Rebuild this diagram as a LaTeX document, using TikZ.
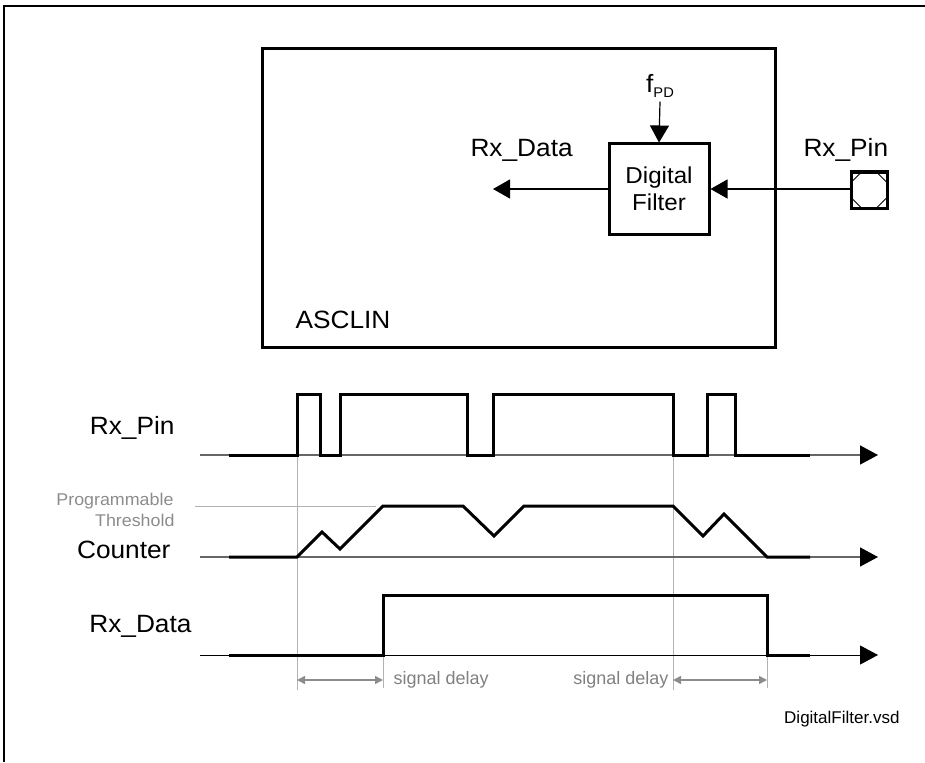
\documentclass[tikz,border=0pt]{standalone}
\usepackage{fontspec}
\setmainfont{Liberation Sans}[FakeStretch=1.05]
\newfontfamily\plainsans{Liberation Sans}
\usetikzlibrary{arrows.meta,calc}

\tikzset{
  box/.style={draw, line width=3pt, inner sep=0pt},
  lbl/.style={font=\fontsize{25}{29}\selectfont},
  note/.style={font=\fontsize{17}{20}\selectfont, black!45},
  arr/.style={line width=1.2pt, -{Triangle[length=17pt,width=19pt]}},
  sig/.style={line width=3pt},
  axis/.style={line width=1.5pt, black!60, -{Triangle[length=18pt,width=19pt,color=black]}},
  guide/.style={black!30, line width=1pt},
  delay/.style={black!45, line width=1.5pt, {Triangle[length=8pt,width=8pt]}-{Triangle[length=8pt,width=8pt]}},
}

\begin{document}
\begin{tikzpicture}[x=1pt, y=-1pt]
	\useasboundingbox (0,0) rectangle (925,762);
	\draw[line width=2pt] (4,762) -- (4,6) -- (925,6);
	
	% block diagram
	\node[box, minimum width=513pt, minimum height=298pt] (asclin) at (518.5,198) {};
	\node[lbl, anchor=base west] (asclinlbl) at (292,328) {ASCLIN};
	\node[box, align=center, minimum width=100pt, minimum height=90pt,
		font=\fontsize{23}{27}\selectfont] (filter) at (659,189) {Digital\\Filter};
	\node[lbl, anchor=base] (fpd) at (660,93) {f\raisebox{-5pt}{\fontsize{14}{14}\selectfont PD}};
	\node[box, line width=3pt, minimum size=36pt] (pin) at (869,190) {};
	\draw[line width=0.8pt] ([shift={(-7.5,-18)}]pin.center) -- ++(15,0) -- ++(10.5,10.5)
		-- ++(0,15) -- ++(-10.5,10.5) -- ++(-15,0) -- ++(-10.5,-10.5) -- ++(0,-15) -- cycle;
	\node[lbl, anchor=base west] (rxdata) at (467,157) {Rx\_Data};
	\node[lbl, anchor=base west] (rxpin) at (800,157) {Rx\_Pin};
	\coordinate (dataout) at (493,189);
	
	\draw[arr] (fpd.south) -- (filter.north);
	\draw[arr] (pin.west |- filter.east) -- (filter.east);
	\draw[arr] (filter.west) -- (dataout);
	
	% timing diagram
	\node[lbl, anchor=base east] (pinlbl) at (178,434) {Rx\_Pin};
	\node[lbl, anchor=base east] (cntlbl) at (174,558) {Counter};
	\node[lbl, anchor=base east] (datalbl) at (195,632) {Rx\_Data};
	\node[note, anchor=base east] (prog) at (177,505) {Programmable};
	\node[note, anchor=base east] (thresh) at (178,526) {Threshold};
	
	\draw[guide] (297,455) -- (297,690);
	\draw[guide] (673,455) -- (673,690);
	\draw[guide] (383,655) -- (383,688);
	\draw[guide] (767,655) -- (767,688);
	\draw[guide] (195,506) -- (376,506);
	
	\draw[axis] (200,455) -- (878,455);
	\draw[axis] (200,557) -- (878,557);
	\draw[line width=1pt, -{Triangle[length=18pt,width=19pt]}] (200,655) -- (878,655);
	
	\draw[sig] (229,455) -- (297,455) -- (297,394) -- (320,394) -- (320,455) -- (340,455)
		-- (340,394) -- (467,394) -- (467,455) -- (493,455) -- (493,394) -- (673,394)
		-- (673,455) -- (707,455) -- (707,394) -- (735,394) -- (735,455) -- (810,455);
	\draw[sig] (229,557) -- (297,557) -- (322,532) -- (340,549) -- (383,506) -- (463,506)
		-- (494,536) -- (524,506) -- (673,506) -- (703,536) -- (724,514) -- (767,557) -- (810,557);
	\draw[sig] (229,655) -- (383,655) -- (383,595) -- (767,595) -- (767,655) -- (810,655);
	
	% delays
	\draw[delay] (297,680) -- (383,680);
	\draw[delay] (673,680) -- (767,680);
	\node[anchor=west, black!50, font=\plainsans\fontsize{18}{21}\selectfont] (delay1) at (390,680) {signal delay};
	\node[anchor=east, black!50, font=\plainsans\fontsize{18}{21}\selectfont] (delay2) at (672,680) {signal delay};
	
	\node[anchor=base east, font=\plainsans\fontsize{17}{20}\selectfont] (file) at (903,723) {DigitalFilter.vsd};
\end{tikzpicture}
\end{document}
